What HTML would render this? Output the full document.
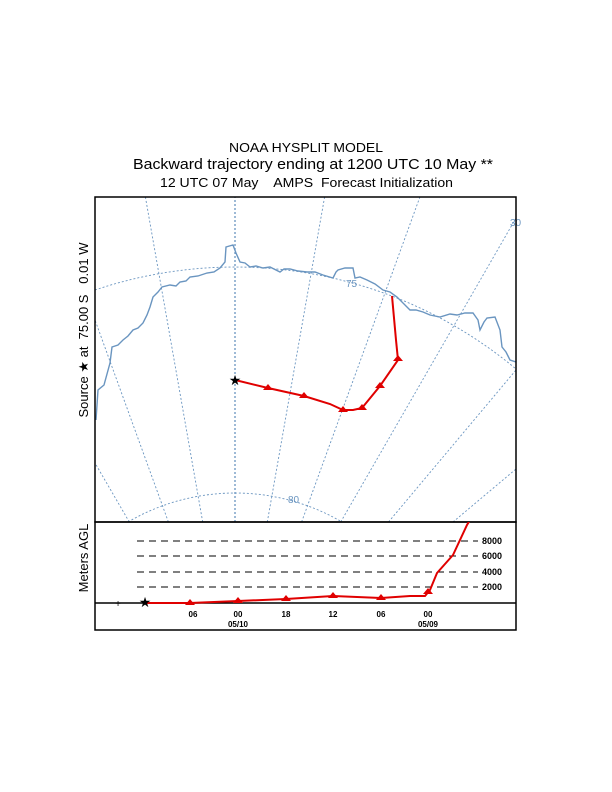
<!DOCTYPE html>
<html><head><style>
html,body{margin:0;padding:0;background:#fff;width:612px;height:792px;overflow:hidden;}
svg{display:block;font-family:"Liberation Sans",Arial,sans-serif;}
</style></head><body>
<svg width="612" height="792" viewBox="0 0 612 792">
<defs><clipPath id="m"><rect x="95" y="197" width="421" height="325"/></clipPath>
<clipPath id="b"><rect x="95" y="522" width="421" height="108"/></clipPath></defs>
<text x="229" y="152" font-size="13" textLength="154" lengthAdjust="spacingAndGlyphs">NOAA HYSPLIT MODEL</text>
<text x="133" y="169" font-size="15" textLength="360" lengthAdjust="spacingAndGlyphs">Backward trajectory ending at 1200 UTC 10 May **</text>
<text x="160" y="187" font-size="13" textLength="293" lengthAdjust="spacingAndGlyphs" xml:space="preserve">12 UTC 07 May    AMPS  Forecast Initialization</text>
<text transform="translate(88,330) rotate(-90)" font-size="13" text-anchor="middle" xml:space="preserve">Source ★ at  75.00 S   0.01 W</text>
<text transform="translate(88,558) rotate(-90)" font-size="13" text-anchor="middle">Meters AGL</text>
<g clip-path="url(#m)" stroke="#6a95c0" fill="none" stroke-width="0.9">
<g stroke-dasharray="2,2">
<line x1="235" y1="522" x2="235" y2="197" stroke-width="1.3"/>
<line x1="267.3" y1="522" x2="324.6" y2="197"/>
<line x1="301.6" y1="522" x2="419.9" y2="197"/>
<line x1="340.7" y1="522" x2="516" y2="218"/>
<line x1="388.5" y1="522" x2="516" y2="370"/>
<line x1="453" y1="522" x2="516" y2="469"/>
<line x1="202.7" y1="522" x2="145.4" y2="197"/>
<line x1="168.4" y1="522" x2="95" y2="320"/>
<line x1="129.3" y1="522" x2="95" y2="463"/>
<path d="M95,290 A438,438 0 0 1 516,369"/>
<path d="M128,522 A212,212 0 0 1 342,522"/>
</g>
<polyline stroke-width="1.4" points="96,420 97,405 98,390 104,385 110,363 112,347 118,345 123,340 128,336 133,330 138,328 143,323 147,315 150,307 153,297 158,292 162,287 170,285 176,286 180,282 186,281 190,277 198,276 207,273 214,272 220,268 225,262 226,247 233,245 236,253 240,262 245,263 250,267 256,266 263,268 270,267 280,272 284,269 290,269 298,271 307,272 315,272 323,275 333,278 336,272 338,270 345,268 353,268 355,278 360,277 367,280 375,284 383,290 390,292 397,297 405,305 410,310 416,310 423,312 430,315 440,317 450,314 457,315 465,313 473,313 478,320 480,330 484,322 487,318 495,317 500,330 502,347 506,352 510,360 516,362"/>
</g>
<g fill="#6a95c0" font-size="10">
<text x="288" y="503">80</text>
<text x="346" y="287">75</text>
<text x="510" y="226">30</text>
</g>
<g stroke="#e00000" stroke-width="2" fill="none">
<polyline points="235,380 268,388 304,396 330,404 343,410 353,410 362,408 380,386 398,360 396,340 392,296"/>
</g>
<g fill="#e00000">
<polygon points="268,384 263,390 273,390"/><polygon points="304,392 299,398 309,398"/>
<polygon points="343,406 338,412 348,412"/><polygon points="362,404 357,410 367,410"/>
<polygon points="380,382 375,388 385,388"/><polygon points="398,355 393,361 403,361"/>
</g>
<text x="235" y="385" font-size="14" text-anchor="middle">★</text>
<rect x="95" y="197" width="421" height="325" fill="none" stroke="#000" stroke-width="1.5"/>
<rect x="95" y="522" width="421" height="108" fill="none" stroke="#000" stroke-width="1.5"/>
<g stroke="#000" stroke-dasharray="7,5" stroke-width="0.9">
<line x1="137" y1="541" x2="478" y2="541"/><line x1="137" y1="556" x2="478" y2="556"/>
<line x1="137" y1="572" x2="478" y2="572"/><line x1="137" y1="587" x2="478" y2="587"/>
</g>
<g font-size="9" font-weight="bold">
<text x="482" y="544">8000</text><text x="482" y="559">6000</text>
<text x="482" y="575">4000</text><text x="482" y="590">2000</text>
</g>
<line x1="95" y1="603" x2="516" y2="603" stroke="#000" stroke-width="1.5"/>
<g font-size="8" text-anchor="middle" font-weight="bold">
<text x="193" y="617">06</text><text x="238" y="617">00</text><text x="286" y="617">18</text>
<text x="333" y="617">12</text><text x="381" y="617">06</text><text x="428" y="617">00</text>
<text x="238" y="627">05/10</text><text x="428" y="627">05/09</text>
</g>
<g clip-path="url(#b)">
<polyline fill="none" stroke="#e00000" stroke-width="2" points="145,603 190,603 238,601 286,599 333,596 381,598 410,596 425,596 430,590 437,573 453,555 467,525 470,520"/>
</g>
<g fill="#e00000">
<polygon points="190,599 185,605 195,605"/><polygon points="238,597 233,603 243,603"/>
<polygon points="286,595 281,601 291,601"/><polygon points="333,592 328,598 338,598"/>
<polygon points="381,594 376,600 386,600"/><polygon points="428,588 423,594 433,594"/>
</g>
<text x="145" y="607" font-size="14" text-anchor="middle">★</text>
<text x="118" y="607" font-size="10" text-anchor="middle">+</text>
</svg>
</body></html>
